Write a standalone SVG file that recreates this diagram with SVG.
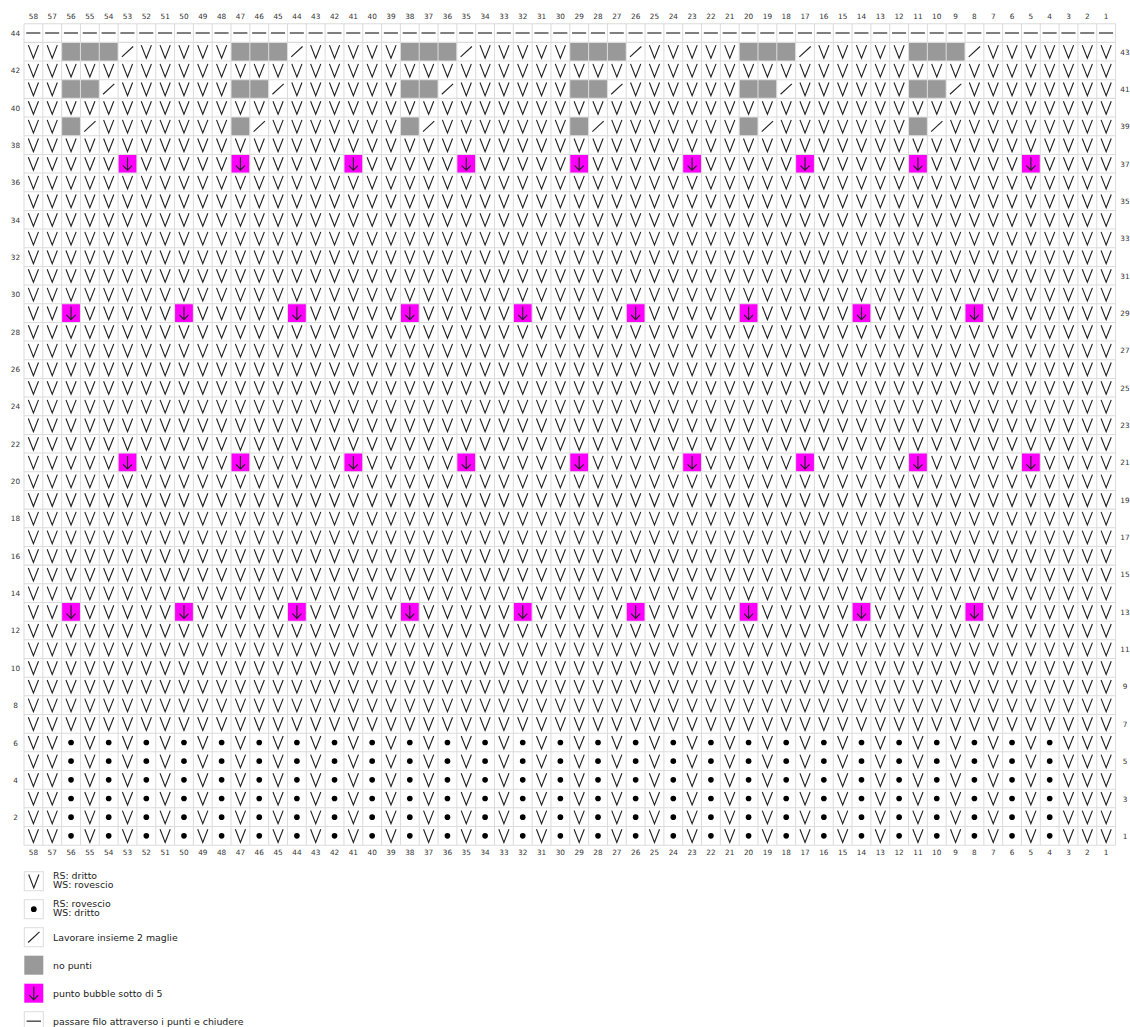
<svg xmlns="http://www.w3.org/2000/svg" width="1130" height="1027" viewBox="0 0 1130 1027">
<style>
.lab{font-family:"DejaVu Sans",sans-serif;font-size:7.3px;fill:#333;text-anchor:middle;dominant-baseline:central}
.leg{font-family:"DejaVu Sans",sans-serif;font-size:9.4px;fill:#222}
.sym{fill:none;stroke:#222;stroke-width:0.06}
.box{fill:#fff;stroke:#ddd;stroke-width:1}
</style>
<defs>
<path id="v" class="sym" d="M0.23 0.15L0.5 0.85L0.77 0.15"/>
<circle id="d" cx="0.5" cy="0.5" r="0.15" fill="#000"/>
<path id="s" class="sym" d="M0.2 0.78L0.8 0.22"/>
<g id="m"><rect width="1" height="1" fill="#ff00ff"/><path class="sym" d="M0.5 0.15V0.85M0.26 0.6L0.5 0.85L0.74 0.6"/></g>
<g id="o43"><rect width="3" height="1" fill="#999"/><rect x="3" width="1" height="1" fill="#fff"/><use href="#s" x="3"/></g>
<g id="o41"><rect width="2" height="1" fill="#999"/><rect x="2" width="1" height="1" fill="#fff"/><use href="#s" x="2"/></g>
<g id="o39"><rect width="1" height="1" fill="#999"/><rect x="1" width="1" height="1" fill="#fff"/><use href="#s" x="1"/></g>
<g id="vrow">
<use href="#v" x="0"/><use href="#v" x="1"/><use href="#v" x="2"/><use href="#v" x="3"/><use href="#v" x="4"/><use href="#v" x="5"/><use href="#v" x="6"/><use href="#v" x="7"/><use href="#v" x="8"/><use href="#v" x="9"/>
<use href="#v" x="10"/><use href="#v" x="11"/><use href="#v" x="12"/><use href="#v" x="13"/><use href="#v" x="14"/><use href="#v" x="15"/><use href="#v" x="16"/><use href="#v" x="17"/><use href="#v" x="18"/><use href="#v" x="19"/>
<use href="#v" x="20"/><use href="#v" x="21"/><use href="#v" x="22"/><use href="#v" x="23"/><use href="#v" x="24"/><use href="#v" x="25"/><use href="#v" x="26"/><use href="#v" x="27"/><use href="#v" x="28"/><use href="#v" x="29"/>
<use href="#v" x="30"/><use href="#v" x="31"/><use href="#v" x="32"/><use href="#v" x="33"/><use href="#v" x="34"/><use href="#v" x="35"/><use href="#v" x="36"/><use href="#v" x="37"/><use href="#v" x="38"/><use href="#v" x="39"/>
<use href="#v" x="40"/><use href="#v" x="41"/><use href="#v" x="42"/><use href="#v" x="43"/><use href="#v" x="44"/><use href="#v" x="45"/><use href="#v" x="46"/><use href="#v" x="47"/><use href="#v" x="48"/><use href="#v" x="49"/>
<use href="#v" x="50"/><use href="#v" x="51"/><use href="#v" x="52"/><use href="#v" x="53"/><use href="#v" x="54"/><use href="#v" x="55"/><use href="#v" x="56"/><use href="#v" x="57"/>
</g>
<g id="drow">
<use href="#v" x="0"/><use href="#v" x="1"/><use href="#d" x="2"/><use href="#v" x="3"/><use href="#d" x="4"/><use href="#v" x="5"/><use href="#d" x="6"/><use href="#v" x="7"/><use href="#d" x="8"/><use href="#v" x="9"/>
<use href="#d" x="10"/><use href="#v" x="11"/><use href="#d" x="12"/><use href="#v" x="13"/><use href="#d" x="14"/><use href="#v" x="15"/><use href="#d" x="16"/><use href="#v" x="17"/><use href="#d" x="18"/><use href="#v" x="19"/>
<use href="#d" x="20"/><use href="#v" x="21"/><use href="#d" x="22"/><use href="#v" x="23"/><use href="#d" x="24"/><use href="#v" x="25"/><use href="#d" x="26"/><use href="#v" x="27"/><use href="#d" x="28"/><use href="#v" x="29"/>
<use href="#d" x="30"/><use href="#v" x="31"/><use href="#d" x="32"/><use href="#v" x="33"/><use href="#d" x="34"/><use href="#v" x="35"/><use href="#d" x="36"/><use href="#v" x="37"/><use href="#d" x="38"/><use href="#v" x="39"/>
<use href="#d" x="40"/><use href="#v" x="41"/><use href="#d" x="42"/><use href="#v" x="43"/><use href="#d" x="44"/><use href="#v" x="45"/><use href="#d" x="46"/><use href="#v" x="47"/><use href="#d" x="48"/><use href="#v" x="49"/>
<use href="#d" x="50"/><use href="#v" x="51"/><use href="#d" x="52"/><use href="#v" x="53"/><use href="#d" x="54"/><use href="#v" x="55"/><use href="#v" x="56"/><use href="#v" x="57"/>
</g>
<g id="ma"><use href="#m" x="5"/><use href="#m" x="11"/><use href="#m" x="17"/><use href="#m" x="23"/><use href="#m" x="29"/><use href="#m" x="35"/><use href="#m" x="41"/><use href="#m" x="47"/><use href="#m" x="53"/></g>
<g id="mb"><use href="#m" x="2"/><use href="#m" x="8"/><use href="#m" x="14"/><use href="#m" x="20"/><use href="#m" x="26"/><use href="#m" x="32"/><use href="#m" x="38"/><use href="#m" x="44"/><use href="#m" x="50"/></g>
</defs>
<rect width="1130" height="1027" fill="#fff"/>
<g id="chart" transform="translate(24 23.7) scale(18.82 18.67)">
<rect width="58" height="44" fill="#fff"/>
<line x1="0.12" y1="0.5" x2="58" y2="0.5" stroke="#555" stroke-width="0.08" stroke-dasharray="0.75 0.25"/>
<use href="#vrow" y="1"/><use href="#vrow" y="2"/><use href="#vrow" y="3"/><use href="#vrow" y="4"/><use href="#vrow" y="5"/><use href="#vrow" y="6"/><use href="#vrow" y="7"/><use href="#vrow" y="8"/><use href="#vrow" y="9"/><use href="#vrow" y="10"/>
<use href="#vrow" y="11"/><use href="#vrow" y="12"/><use href="#vrow" y="13"/><use href="#vrow" y="14"/><use href="#vrow" y="15"/><use href="#vrow" y="16"/><use href="#vrow" y="17"/><use href="#vrow" y="18"/><use href="#vrow" y="19"/><use href="#vrow" y="20"/>
<use href="#vrow" y="21"/><use href="#vrow" y="22"/><use href="#vrow" y="23"/><use href="#vrow" y="24"/><use href="#vrow" y="25"/><use href="#vrow" y="26"/><use href="#vrow" y="27"/><use href="#vrow" y="28"/><use href="#vrow" y="29"/><use href="#vrow" y="30"/>
<use href="#vrow" y="31"/><use href="#vrow" y="32"/><use href="#vrow" y="33"/><use href="#vrow" y="34"/><use href="#vrow" y="35"/><use href="#vrow" y="36"/><use href="#vrow" y="37"/>
<use href="#drow" y="38"/><use href="#drow" y="39"/><use href="#drow" y="40"/><use href="#drow" y="41"/><use href="#drow" y="42"/><use href="#drow" y="43"/>
<use href="#ma" y="7"/><use href="#ma" y="23"/><use href="#mb" y="15"/><use href="#mb" y="31"/>
<use href="#o43" x="2" y="1"/><use href="#o43" x="11" y="1"/><use href="#o43" x="20" y="1"/><use href="#o43" x="29" y="1"/><use href="#o43" x="38" y="1"/><use href="#o43" x="47" y="1"/>
<use href="#o41" x="2" y="3"/><use href="#o41" x="11" y="3"/><use href="#o41" x="20" y="3"/><use href="#o41" x="29" y="3"/><use href="#o41" x="38" y="3"/><use href="#o41" x="47" y="3"/>
<use href="#o39" x="2" y="5"/><use href="#o39" x="11" y="5"/><use href="#o39" x="20" y="5"/><use href="#o39" x="29" y="5"/><use href="#o39" x="38" y="5"/><use href="#o39" x="47" y="5"/>
<path fill="none" stroke="#dcdcdc" stroke-width="0.055" d="M0 0V44M1 0V44M2 0V44M3 0V44M4 0V44M5 0V44M6 0V44M7 0V44M8 0V44M9 0V44M10 0V44M11 0V44M12 0V44M13 0V44M14 0V44M15 0V44M16 0V44M17 0V44M18 0V44M19 0V44M20 0V44M21 0V44M22 0V44M23 0V44M24 0V44M25 0V44M26 0V44M27 0V44M28 0V44M29 0V44M30 0V44M31 0V44M32 0V44M33 0V44M34 0V44M35 0V44M36 0V44M37 0V44M38 0V44M39 0V44M40 0V44M41 0V44M42 0V44M43 0V44M44 0V44M45 0V44M46 0V44M47 0V44M48 0V44M49 0V44M50 0V44M51 0V44M52 0V44M53 0V44M54 0V44M55 0V44M56 0V44M57 0V44M58 0V44M0 0H58M0 1H58M0 2H58M0 3H58M0 4H58M0 5H58M0 6H58M0 7H58M0 8H58M0 9H58M0 10H58M0 11H58M0 12H58M0 13H58M0 14H58M0 15H58M0 16H58M0 17H58M0 18H58M0 19H58M0 20H58M0 21H58M0 22H58M0 23H58M0 24H58M0 25H58M0 26H58M0 27H58M0 28H58M0 29H58M0 30H58M0 31H58M0 32H58M0 33H58M0 34H58M0 35H58M0 36H58M0 37H58M0 38H58M0 39H58M0 40H58M0 41H58M0 42H58M0 43H58M0 44H58"/>
</g>
<g id="col-labels-top"><text class="lab" y="16"><tspan x="33.41">58</tspan><tspan x="52.23">57</tspan><tspan x="71.05">56</tspan><tspan x="89.87">55</tspan><tspan x="108.69">54</tspan><tspan x="127.51">53</tspan><tspan x="146.33">52</tspan><tspan x="165.15">51</tspan><tspan x="183.97">50</tspan><tspan x="202.79">49</tspan><tspan x="221.61">48</tspan><tspan x="240.43">47</tspan><tspan x="259.25">46</tspan><tspan x="278.07">45</tspan><tspan x="296.89">44</tspan><tspan x="315.71">43</tspan><tspan x="334.53">42</tspan><tspan x="353.35">41</tspan><tspan x="372.17">40</tspan><tspan x="390.99">39</tspan><tspan x="409.81">38</tspan><tspan x="428.63">37</tspan><tspan x="447.45">36</tspan><tspan x="466.27">35</tspan><tspan x="485.09">34</tspan><tspan x="503.91">33</tspan><tspan x="522.73">32</tspan><tspan x="541.55">31</tspan><tspan x="560.37">30</tspan><tspan x="579.19">29</tspan><tspan x="598.01">28</tspan><tspan x="616.83">27</tspan><tspan x="635.65">26</tspan><tspan x="654.47">25</tspan><tspan x="673.29">24</tspan><tspan x="692.11">23</tspan><tspan x="710.93">22</tspan><tspan x="729.75">21</tspan><tspan x="748.57">20</tspan><tspan x="767.39">19</tspan><tspan x="786.21">18</tspan><tspan x="805.03">17</tspan><tspan x="823.85">16</tspan><tspan x="842.67">15</tspan><tspan x="861.49">14</tspan><tspan x="880.31">13</tspan><tspan x="899.13">12</tspan><tspan x="917.95">11</tspan><tspan x="936.77">10</tspan><tspan x="955.59">9</tspan><tspan x="974.41">8</tspan><tspan x="993.23">7</tspan><tspan x="1012.05">6</tspan><tspan x="1030.87">5</tspan><tspan x="1049.69">4</tspan><tspan x="1068.51">3</tspan><tspan x="1087.33">2</tspan><tspan x="1106.15">1</tspan></text></g>
<g id="col-labels-bottom"><text class="lab" y="851.5"><tspan x="33.41">58</tspan><tspan x="52.23">57</tspan><tspan x="71.05">56</tspan><tspan x="89.87">55</tspan><tspan x="108.69">54</tspan><tspan x="127.51">53</tspan><tspan x="146.33">52</tspan><tspan x="165.15">51</tspan><tspan x="183.97">50</tspan><tspan x="202.79">49</tspan><tspan x="221.61">48</tspan><tspan x="240.43">47</tspan><tspan x="259.25">46</tspan><tspan x="278.07">45</tspan><tspan x="296.89">44</tspan><tspan x="315.71">43</tspan><tspan x="334.53">42</tspan><tspan x="353.35">41</tspan><tspan x="372.17">40</tspan><tspan x="390.99">39</tspan><tspan x="409.81">38</tspan><tspan x="428.63">37</tspan><tspan x="447.45">36</tspan><tspan x="466.27">35</tspan><tspan x="485.09">34</tspan><tspan x="503.91">33</tspan><tspan x="522.73">32</tspan><tspan x="541.55">31</tspan><tspan x="560.37">30</tspan><tspan x="579.19">29</tspan><tspan x="598.01">28</tspan><tspan x="616.83">27</tspan><tspan x="635.65">26</tspan><tspan x="654.47">25</tspan><tspan x="673.29">24</tspan><tspan x="692.11">23</tspan><tspan x="710.93">22</tspan><tspan x="729.75">21</tspan><tspan x="748.57">20</tspan><tspan x="767.39">19</tspan><tspan x="786.21">18</tspan><tspan x="805.03">17</tspan><tspan x="823.85">16</tspan><tspan x="842.67">15</tspan><tspan x="861.49">14</tspan><tspan x="880.31">13</tspan><tspan x="899.13">12</tspan><tspan x="917.95">11</tspan><tspan x="936.77">10</tspan><tspan x="955.59">9</tspan><tspan x="974.41">8</tspan><tspan x="993.23">7</tspan><tspan x="1012.05">6</tspan><tspan x="1030.87">5</tspan><tspan x="1049.69">4</tspan><tspan x="1068.51">3</tspan><tspan x="1087.33">2</tspan><tspan x="1106.15">1</tspan></text></g>
<g id="row-labels-left"><text class="lab"><tspan x="15.5" y="33.04">44</tspan><tspan x="15.5" y="70.38">42</tspan><tspan x="15.5" y="107.72">40</tspan><tspan x="15.5" y="145.06">38</tspan><tspan x="15.5" y="182.4">36</tspan><tspan x="15.5" y="219.74">34</tspan><tspan x="15.5" y="257.08">32</tspan><tspan x="15.5" y="294.42">30</tspan><tspan x="15.5" y="331.76">28</tspan><tspan x="15.5" y="369.1">26</tspan><tspan x="15.5" y="406.44">24</tspan><tspan x="15.5" y="443.78">22</tspan><tspan x="15.5" y="481.12">20</tspan><tspan x="15.5" y="518.46">18</tspan><tspan x="15.5" y="555.8">16</tspan><tspan x="15.5" y="593.14">14</tspan><tspan x="15.5" y="630.48">12</tspan><tspan x="15.5" y="667.82">10</tspan><tspan x="15.5" y="705.16">8</tspan><tspan x="15.5" y="742.5">6</tspan><tspan x="15.5" y="779.84">4</tspan><tspan x="15.5" y="817.18">2</tspan></text></g>
<g id="row-labels-right"><text class="lab"><tspan x="1125" y="51.71">43</tspan><tspan x="1125" y="89.05">41</tspan><tspan x="1125" y="126.39">39</tspan><tspan x="1125" y="163.73">37</tspan><tspan x="1125" y="201.07">35</tspan><tspan x="1125" y="238.41">33</tspan><tspan x="1125" y="275.75">31</tspan><tspan x="1125" y="313.09">29</tspan><tspan x="1125" y="350.43">27</tspan><tspan x="1125" y="387.77">25</tspan><tspan x="1125" y="425.11">23</tspan><tspan x="1125" y="462.45">21</tspan><tspan x="1125" y="499.79">19</tspan><tspan x="1125" y="537.13">17</tspan><tspan x="1125" y="574.47">15</tspan><tspan x="1125" y="611.81">13</tspan><tspan x="1125" y="649.15">11</tspan><tspan x="1125" y="686.49">9</tspan><tspan x="1125" y="723.83">7</tspan><tspan x="1125" y="761.17">5</tspan><tspan x="1125" y="798.51">3</tspan><tspan x="1125" y="835.85">1</tspan></text></g>
<g id="legend">
<g id="leg-knit"><rect class="box" x="24.3" y="871.7" width="19" height="19"/><use href="#v" transform="translate(24.3 871.7) scale(19)"/><text class="leg" x="53" y="879">RS: dritto</text><text class="leg" x="53" y="888.3">WS: rovescio</text></g>
<g id="leg-purl"><rect class="box" x="24.3" y="899.7" width="19" height="19"/><use href="#d" transform="translate(24.3 899.7) scale(19)"/><text class="leg" x="53" y="907">RS: rovescio</text><text class="leg" x="53" y="916.3">WS: dritto</text></g>
<g id="leg-k2tog"><rect class="box" x="24.3" y="927.7" width="19" height="19"/><use href="#s" transform="translate(24.3 927.7) scale(19)"/><text class="leg" x="53" y="940.5">Lavorare insieme 2 maglie</text></g>
<g id="leg-nost"><rect x="24.3" y="955.7" width="19" height="19" fill="#999"/><text class="leg" x="53" y="968.5">no punti</text></g>
<g id="leg-bubble"><use href="#m" transform="translate(24.3 983.7) scale(19)"/><text class="leg" x="53" y="996.5">punto bubble sotto di 5</text></g>
<g id="leg-bind"><rect class="box" x="24.3" y="1011.7" width="19" height="19"/><line x1="26.6" y1="1021.2" x2="41" y2="1021.2" stroke="#555" stroke-width="1.5"/><text class="leg" x="53" y="1024.5">passare filo attraverso i punti e chiudere</text></g>
</g>
</svg>
